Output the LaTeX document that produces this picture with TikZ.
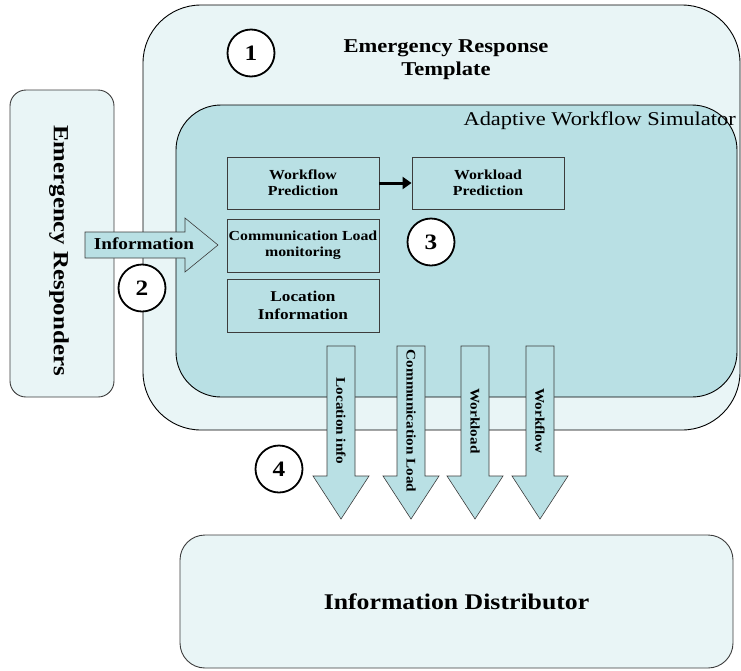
\documentclass[tikz,border=0pt]{standalone}
\usepackage{fontspec}
\setmainfont{Liberation Serif}[FakeStretch=1.15]
\usetikzlibrary{arrows.meta}
\definecolor{paletint}{RGB}{233,245,246}
\definecolor{tealtint}{RGB}{185,224,228}
\definecolor{edgegray}{RGB}{60,60,60}
\tikzset{
  panel/.style={draw=black, line width=0.9pt, fill=paletint, inner sep=0pt},
  simpanel/.style={draw=black, line width=0.9pt, fill=tealtint, inner sep=0pt},
  modbox/.style={draw=edgegray, line width=0.9pt, fill=tealtint, minimum width=152pt,
    minimum height=52pt, inner sep=0pt, align=center, font=\bfseries\fontsize{13.8}{16}\selectfont},
  fatarrow/.style={draw=edgegray, line width=0.6pt, fill=tealtint},
  arrowlabel/.style={inner sep=0pt, font=\bfseries\fontsize{13.2}{15}\selectfont},
  stepmark/.style={circle, draw=black, line width=1.8pt, fill=white, minimum size=47pt,
    inner sep=0pt, font=\bfseries\fontsize{22}{24}\selectfont},
}
\begin{document}
\begin{tikzpicture}[x=1pt, y=-1pt]
\useasboundingbox (0,0) rectangle (741,670);

% outer template panel and the simulator inside it
\node[panel, rounded corners=58pt, minimum width=597pt, minimum height=425pt] (template) at (441.5,217.5) {};
\node[align=center, inner sep=0pt, font=\bfseries\fontsize{19.6}{23}\selectfont] (templatetitle) at (446,60) {Emergency Response\\Template};
\node[simpanel, rounded corners=45pt, minimum width=561pt, minimum height=292pt] (simulator) at (456.5,251) {};
\node[anchor=east, inner sep=0pt, font=\fontsize{19.5}{21}\selectfont] (simtitle) at (736,121) {Adaptive Workflow Simulator};

% responders and distributor panels
\node[panel, draw=edgegray, rounded corners=16pt, minimum width=104pt, minimum height=307pt] (responders) at (62,243.5) {};
\node[rotate=-90, inner sep=0pt, font=\bfseries\fontsize{21.6}{23}\selectfont] (responderstext) at (59,250.5) {Emergency Responders};
\node[panel, draw=edgegray, rounded corners=25pt, minimum width=553pt, minimum height=133pt,
  font=\bfseries\fontsize{22.4}{24}\selectfont] (distributor) at (456.5,601.5) {Information Distributor};

% simulator modules
\node[modbox] (wfpred) at (303,183) {Workflow\\Prediction};
\node[modbox] (wlpred) at (488,183) {Workload\\Prediction};
\node[modbox, minimum height=53pt] (commload) at (303,245.5) {Communication Load\\monitoring};
\node[modbox, minimum height=53pt, font=\bfseries\fontsize{15}{18}\selectfont] (locinfo) at (303,305.5) {Location\\Information};
\draw[-{Triangle[length=9pt,width=12pt]}, line width=3pt] (wfpred) -- (wlpred);

% incoming information arrow
\draw[fatarrow] (85,232) -- (185,232) -- (185,218) -- (218,245) -- (185,272) -- (185,258) -- (85,258) -- cycle;
\node[inner sep=0pt, font=\bfseries\fontsize{16.7}{18}\selectfont] (infolabel) at (144,244) {Information};

% outgoing arrows to the distributor
\foreach \cx/\nm/\txt in {341/outloc/Location info, 411/outcomm/Communication Load, 475/outwl/Workload, 540/outwf/Workflow}{
  \draw[fatarrow] ({\cx-14},346) -- ({\cx+14},346) -- ({\cx+14},476) -- ({\cx+28},476) -- (\cx,519)
    -- ({\cx-28},476) -- ({\cx-14},476) -- cycle;
  \node[arrowlabel, rotate=-90] (\nm) at (\cx,421) {\txt};
}

% numbered step markers
\node[stepmark] (stepone) at (251,53) {1};
\node[stepmark] (steptwo) at (142,288) {2};
\node[stepmark] (stepthree) at (431,242) {3};
\node[stepmark] (stepfour) at (279,469) {4};
\end{tikzpicture}
\end{document}
